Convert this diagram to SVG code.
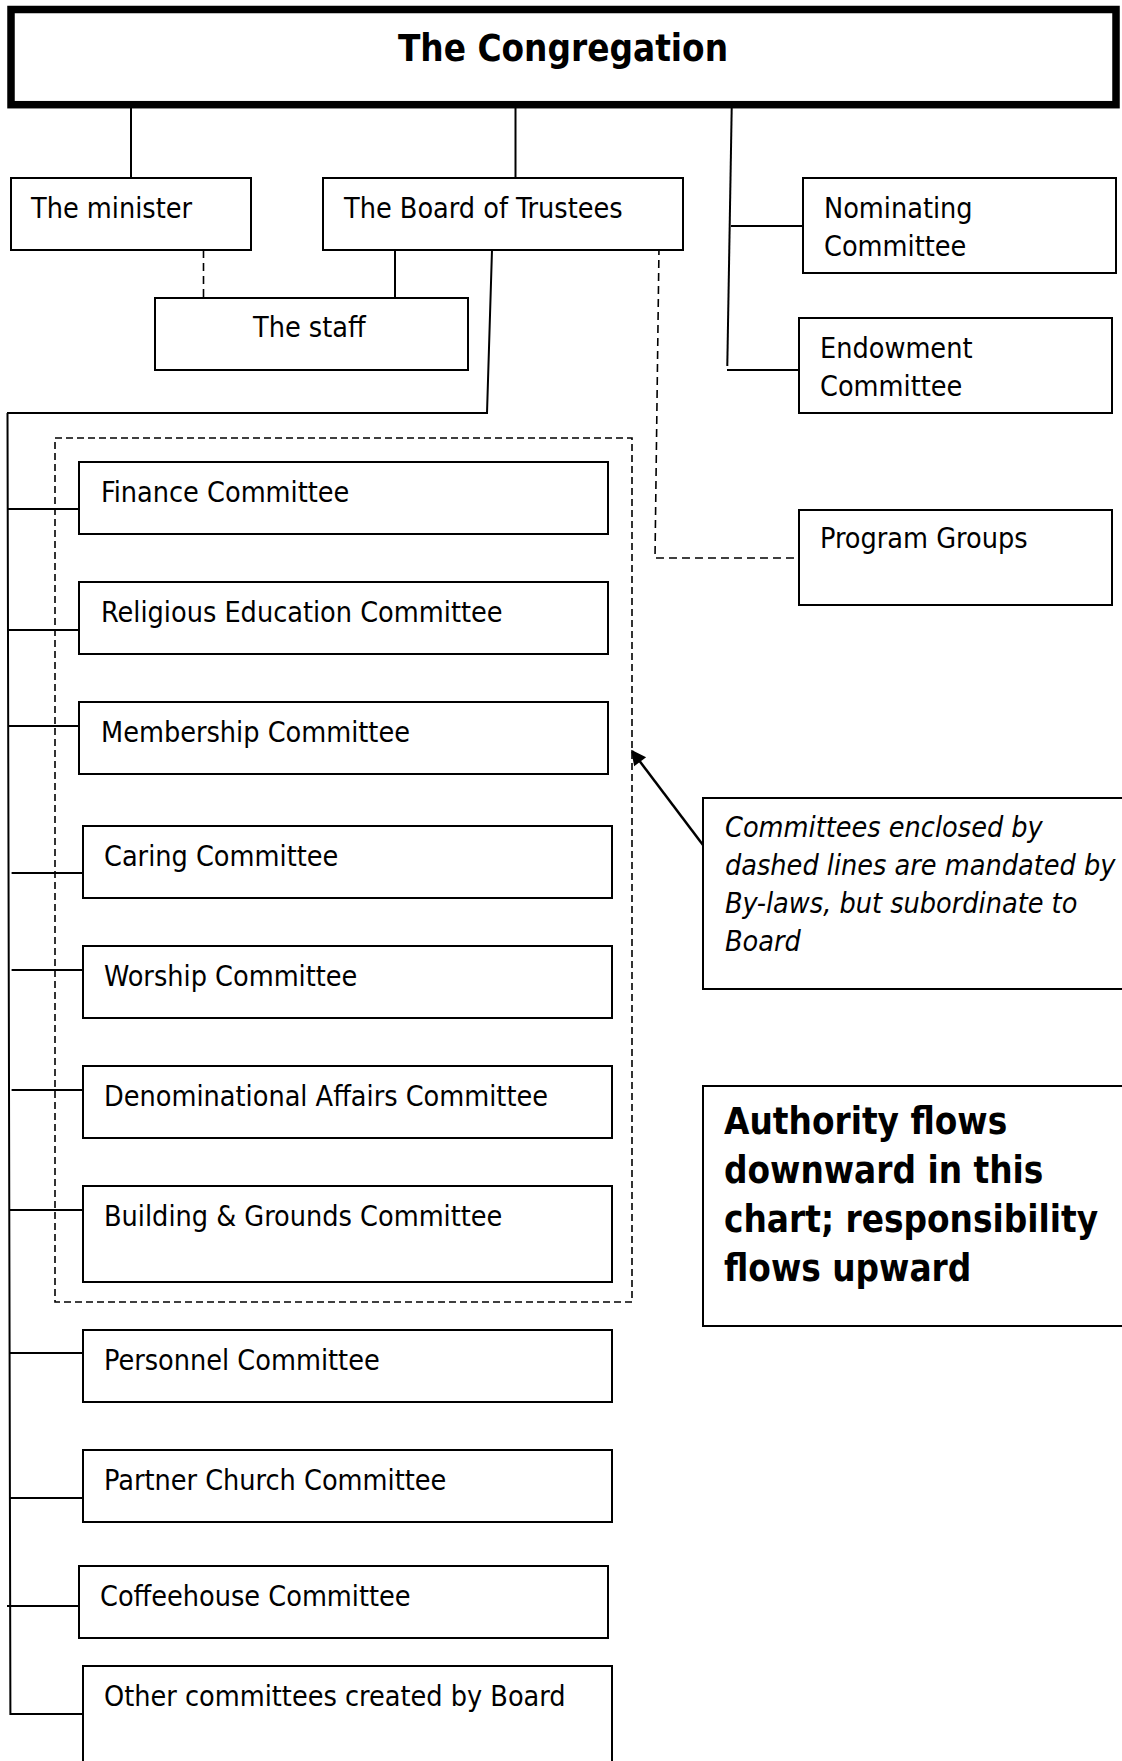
<svg xmlns="http://www.w3.org/2000/svg" width="1122" height="1761" viewBox="0 0 1122 1761">
<style>
  .bx { fill: #fff; stroke: #000; stroke-width: 2; }
  .ln { fill: none; stroke: #000; stroke-width: 2; }
  .ar { fill: none; stroke: #000; stroke-width: 2.5; }
  .dl { fill: none; stroke: #000; stroke-width: 1.6; stroke-dasharray: 8 5; }
  .dr { fill: none; stroke: #000; stroke-width: 1.6; stroke-dasharray: 7 4; }
  text { font-family: "DejaVu Sans Condensed", "DejaVu Sans", sans-serif; font-stretch: condensed; font-size: 28.5px; fill: #000; }
  .b { font-weight: bold; font-size: 36.5px; }
  .i { font-style: italic; }
</style>
<defs>
  <marker id="ah" viewBox="0 0 10 10" refX="9" refY="5" markerWidth="21" markerHeight="15" markerUnits="userSpaceOnUse" orient="auto">
    <path d="M0,0 L10,5 L0,10 z" fill="#000"/>
  </marker>
</defs>
<rect width="1122" height="1761" fill="#fff"/>

<g id="connectors">
  <line class="ln" x1="131" y1="108" x2="131" y2="178"/>
  <line class="ln" x1="515.5" y1="108" x2="515.5" y2="178"/>
  <polyline class="ln" points="731.7,108 727.3,366"/>
  <line class="ln" x1="731" y1="226" x2="803" y2="226"/>
  <line class="ln" x1="727" y1="370" x2="799" y2="370"/>
  <line class="dl" x1="203.5" y1="250" x2="203.5" y2="298"/>
  <line class="ln" x1="395" y1="250" x2="395" y2="298"/>
  <polyline class="dl" points="659,247 655,558 799,558"/>
  <polyline class="ln" points="492,250 487,413 7,413"/>
  <polyline class="ln" points="7.5,413 10.4,1714 83,1714"/>
  <line class="ln" x1="7.5" y1="509" x2="79" y2="509"/>
  <line class="ln" x1="7.5" y1="630" x2="79" y2="630"/>
  <line class="ln" x1="8" y1="726" x2="79" y2="726"/>
  <line class="ln" x1="11.6" y1="873" x2="83" y2="873"/>
  <line class="ln" x1="11.6" y1="970" x2="83" y2="970"/>
  <line class="ln" x1="11.6" y1="1090" x2="83" y2="1090"/>
  <line class="ln" x1="9.5" y1="1210" x2="83" y2="1210"/>
  <line class="ln" x1="10" y1="1353" x2="83" y2="1353"/>
  <line class="ln" x1="10" y1="1498" x2="83" y2="1498"/>
  <line class="ln" x1="7" y1="1606" x2="79" y2="1606"/>
  <line class="ar" x1="703" y1="845" x2="632" y2="751" marker-end="url(#ah)"/>
</g>

<rect id="mandated-group" class="dr" x="55" y="438" width="577" height="864"/>

<g id="congregation">
  <rect x="11" y="9.5" width="1105" height="95.2" fill="#fff" stroke="#000" stroke-width="7.5"/>
  <text class="b" x="563" y="61" text-anchor="middle">The Congregation</text>
</g>
<g id="minister"><rect class="bx" x="11" y="178" width="240" height="72"/><text x="31" y="218">The minister</text></g>
<g id="board"><rect class="bx" x="323" y="178" width="360" height="72"/><text x="344" y="218">The Board of Trustees</text></g>
<g id="staff"><rect class="bx" x="155" y="298" width="313" height="72"/><text x="253" y="337">The staff</text></g>
<g id="nominating"><rect class="bx" x="803" y="178" width="313" height="95"/><text x="824" y="218">Nominating</text><text x="824" y="256">Committee</text></g>
<g id="endowment"><rect class="bx" x="799" y="318" width="313" height="95"/><text x="820" y="358">Endowment</text><text x="820" y="396">Committee</text></g>
<g id="program"><rect class="bx" x="799" y="510" width="313" height="95"/><text x="820" y="548">Program Groups</text></g>

<g id="finance"><rect class="bx" x="79" y="462" width="529" height="72"/><text x="101" y="502">Finance Committee</text></g>
<g id="religious-ed"><rect class="bx" x="79" y="582" width="529" height="72"/><text x="101" y="622">Religious Education Committee</text></g>
<g id="membership"><rect class="bx" x="79" y="702" width="529" height="72"/><text x="101" y="742">Membership Committee</text></g>
<g id="caring"><rect class="bx" x="83" y="826" width="529" height="72"/><text x="104" y="866">Caring Committee</text></g>
<g id="worship"><rect class="bx" x="83" y="946" width="529" height="72"/><text x="104" y="986">Worship Committee</text></g>
<g id="denominational"><rect class="bx" x="83" y="1066" width="529" height="72"/><text x="104" y="1106">Denominational Affairs Committee</text></g>
<g id="building"><rect class="bx" x="83" y="1186" width="529" height="96"/><text x="104" y="1226">Building &amp; Grounds Committee</text></g>
<g id="personnel"><rect class="bx" x="83" y="1330" width="529" height="72"/><text x="104" y="1370">Personnel Committee</text></g>
<g id="partner"><rect class="bx" x="83" y="1450" width="529" height="72"/><text x="104" y="1490">Partner Church Committee</text></g>
<g id="coffeehouse"><rect class="bx" x="79" y="1566" width="529" height="72"/><text x="100" y="1606">Coffeehouse Committee</text></g>
<g id="other"><rect class="bx" x="83" y="1666" width="529" height="110"/><text x="104" y="1706">Other committees created by Board</text></g>

<g id="note">
  <rect class="bx" x="703" y="798" width="430" height="191"/>
  <text class="i" x="725" y="837">Committees enclosed by</text>
  <text class="i" x="725" y="875">dashed lines are mandated by</text>
  <text class="i" x="725" y="913">By-laws, but subordinate to</text>
  <text class="i" x="725" y="951">Board</text>
</g>
<g id="authority">
  <rect class="bx" x="703" y="1086" width="430" height="240"/>
  <text class="b" x="724" y="1134">Authority flows</text>
  <text class="b" x="724" y="1183">downward in this</text>
  <text class="b" x="724" y="1232">chart; responsibility</text>
  <text class="b" x="724" y="1281">flows upward</text>
</g>
</svg>
